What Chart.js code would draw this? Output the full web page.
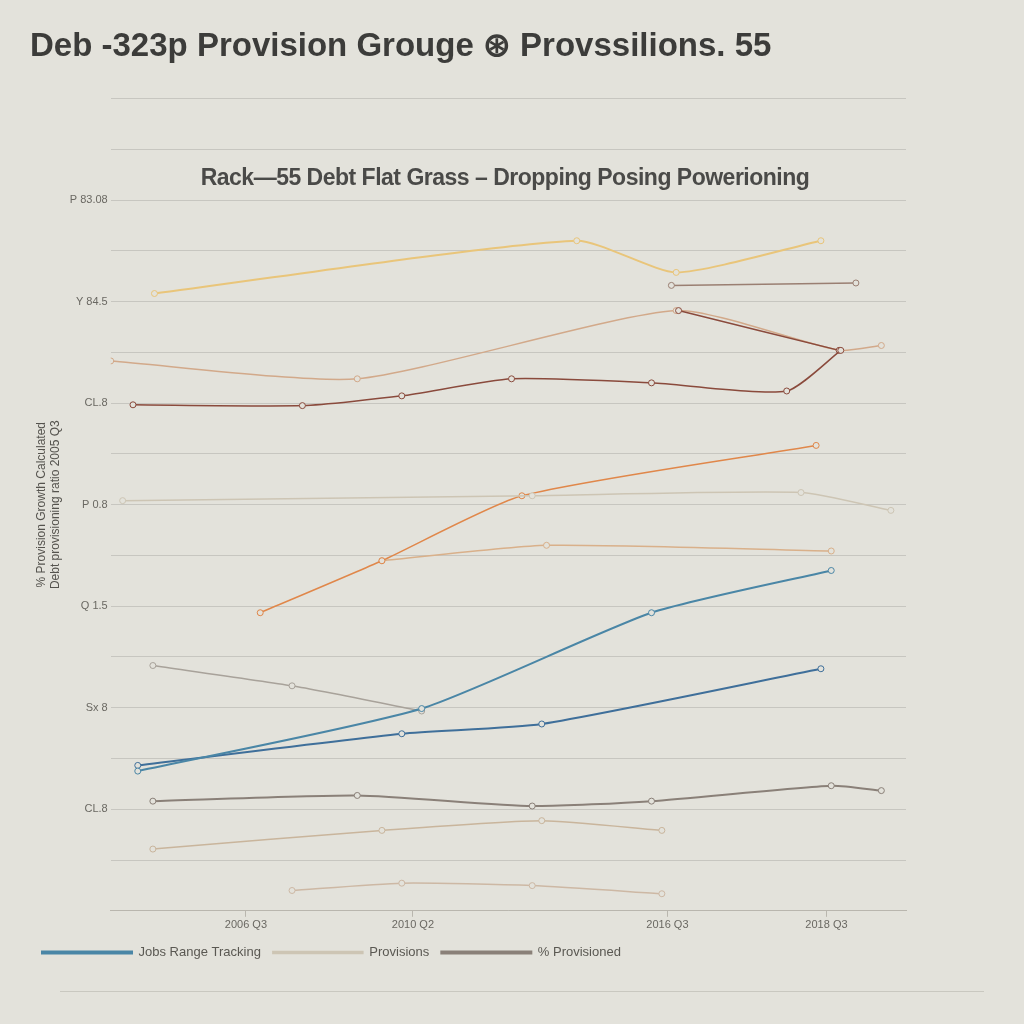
<!DOCTYPE html>
<html>
<head>
<meta charset="utf-8">
<script src="https://cdn.jsdelivr.net/npm/chart.js@4"></script>
<style>
  html, body { margin: 0; padding: 0; background: #e3e2db; }
  #wrap { position: relative; width: 1024px; height: 1024px; }
  #sub { position: absolute; left: 0; width: 1010px; top: 164px; text-align: center;
         font: bold 23px "Liberation Sans", Arial, sans-serif; color: #4a4a48; letter-spacing: -0.5px; }
  #rule { position: absolute; left: 60px; right: 40px; top: 991px; border-top: 1px solid #c9c8c0; }
</style>
</head>
<body>
<div id="wrap">
  <canvas id="myChart" width="1024" height="1024"></canvas>
  <div id="sub">Rack—55 Debt Flat Grass – Dropping Posing Powerioning</div>
  <div id="rule"></div>
</div>
<script>
'use strict';

// x ticks (position on a 0..100 time scale) and their labels
let xTickValues = [17, 38, 70, 90];
let xTickLabels = ['2006 Q3', '2010 Q2', '2016 Q3', '2018 Q3'];

// y tick labels (0..100 scale)
let yTickValues = [12.5, 25, 37.5, 50, 62.5, 75, 87.5];
let yTickLabels = ['CL.8', 'Sx 8', 'Q 1.5', 'P 0.8', 'CL.8', 'Y 84.5', 'P 83.08'];

// series: x positions and values
let goldX = [5.5, 58.6, 71.1, 89.3];
let goldY = [76.0, 82.5, 78.6, 82.5];

let brownX = [2.8, 24.1, 36.6, 50.4, 68.0, 85.0, 91.8];
let brownY = [62.3, 62.2, 63.4, 65.5, 65.0, 64.0, 69.0];

let brown2X = [71.4, 91.6];
let brown2Y = [73.9, 69.0];

let greyBrownX = [70.5, 93.7];
let greyBrownY = [77.0, 77.3];

let tanX = [0, 31.0, 71.1, 91.6, 96.9];
let tanY = [67.7, 65.5, 73.9, 69.0, 69.6];

let orangeX = [18.8, 34.1, 51.7, 88.7];
let orangeY = [36.7, 43.1, 51.1, 57.3];

let paleX = [1.5, 53.0, 86.8, 98.1];
let paleY = [50.5, 51.1, 51.5, 49.3];

let tan2X = [34.1, 54.8, 90.6];
let tan2Y = [43.1, 45.0, 44.3];

let blueX = [3.4, 39.1, 68.0, 90.6];
let blueY = [17.2, 24.9, 36.7, 41.9];

let blue2X = [3.4, 36.6, 54.2, 89.3];
let blue2Y = [17.9, 21.8, 23.0, 29.8];

let greyX = [5.3, 22.8, 39.1];
let greyY = [30.2, 27.7, 24.6];

let darkX = [5.3, 31.0, 53.0, 68.0, 90.6, 96.9];
let darkY = [13.5, 14.2, 12.9, 13.5, 15.4, 14.8];

let tan3X = [5.3, 34.1, 54.2, 69.3];
let tan3Y = [7.6, 9.9, 11.1, 9.9];

let lightX = [22.8, 36.6, 53.0, 69.3];
let lightY = [2.5, 3.4, 3.1, 2.1];

function pts(xs, ys) {
  let out = [];
  for (let i = 0; i < xs.length; i++) out.push({ x: xs[i], y: ys[i] });
  return out;
}

function line(label, xs, ys, color, width, legend) {
  return {
    label: label,
    data: pts(xs, ys),
    borderColor: color,
    backgroundColor: color,
    borderWidth: width,
    pointRadius: 3,
    pointBackgroundColor: '#e3e2db',
    pointBorderColor: color,
    pointBorderWidth: 1,
    tension: 0.2,
    showInLegend: legend
  };
}

let datasets = [
  line('Jobs Range Tracking', blueX, blueY, '#4a86a6', 2, true),
  line('Provisions', paleX, paleY, '#cdc5b4', 1.5, true),
  line('% Provisioned', darkX, darkY, '#8a8078', 2, true),
  line('gold', goldX, goldY, '#e9c57a', 2, false),
  line('brown', brownX, brownY, '#8a4a3c', 1.5, false),
  line('brown2', brown2X, brown2Y, '#8a4a3c', 1.5, false),
  line('greybrown', greyBrownX, greyBrownY, '#9a7f72', 1.5, false),
  line('tan', tanX, tanY, '#d2a98a', 1.5, false),
  line('orange', orangeX, orangeY, '#e0874a', 1.5, false),
  line('tan2', tan2X, tan2Y, '#d9b08a', 1.5, false),
  line('blue2', blue2X, blue2Y, '#3f6f9a', 2, false),
  line('grey', greyX, greyY, '#a8a29a', 1.5, false),
  line('tan3', tan3X, tan3Y, '#c9b59c', 1.5, false),
  line('light', lightX, lightY, '#cdb8a4', 1.5, false)
];

let bgPlugin = {
  id: 'bg',
  beforeDraw(chart) {
    let c = chart.ctx;
    c.save();
    c.fillStyle = '#e3e2db';
    c.fillRect(0, 0, chart.width, chart.height);
    c.restore();
  }
};

let ctx = document.getElementById('myChart').getContext('2d');
let myChart = new Chart(ctx, {
  type: 'line',
  data: { datasets: datasets },
  plugins: [bgPlugin],
  options: {
    responsive: false,
    animation: false,
    layout: { padding: { left: 30, right: 118, top: 0, bottom: 55 } },
    plugins: {
      title: {
        display: true,
        text: 'Deb -323p Provision Grouge ⊛ Provssilions. 55',
        align: 'start',
        color: '#3c3c3a',
        font: { family: 'Liberation Sans', size: 33, weight: 'bold' },
        padding: { top: 27, bottom: 32 }
      },
      legend: {
        position: 'bottom',
        align: 'start',
        labels: {
          filter: (item, data) => data.datasets[item.datasetIndex].showInLegend,
          boxWidth: 90,
          boxHeight: 2,
          color: '#5a5852',
          font: { family: 'Liberation Sans', size: 13 },
          padding: 12
        }
      },
      tooltip: { enabled: false }
    },
    scales: {
      x: {
        type: 'linear',
        min: 0,
        max: 100,
        afterBuildTicks: axis => { axis.ticks = xTickValues.map(v => ({ value: v })); },
        ticks: {
          callback: v => xTickLabels[xTickValues.indexOf(v)],
          color: '#6a6862',
          font: { family: 'Liberation Sans', size: 11 },
          padding: 2
        },
        grid: { drawOnChartArea: false, color: '#b9b6ae', tickLength: 6 },
        border: { color: '#b9b6ae' }
      },
      y: {
        min: 0,
        max: 100,
        afterBuildTicks: axis => {
          let t = [];
          for (let v = 0; v <= 100; v += 6.25) t.push({ value: v });
          axis.ticks = t;
        },
        ticks: {
          callback: v => {
            let i = yTickValues.indexOf(v);
            return i >= 0 ? yTickLabels[i] : '';
          },
          color: '#6a6862',
          font: { family: 'Liberation Sans', size: 11 }
        },
        grid: { color: 'rgba(0,0,0,0.12)', drawTicks: false },
        border: { display: false },
        title: {
          display: true,
          text: ['% Provision Growth Calculated', 'Debt provisioning ratio 2005 Q3'],
          color: '#55534e',
          font: { family: 'Liberation Sans', size: 12 }
        }
      }
    }
  }
});
</script>
</body>
</html>
